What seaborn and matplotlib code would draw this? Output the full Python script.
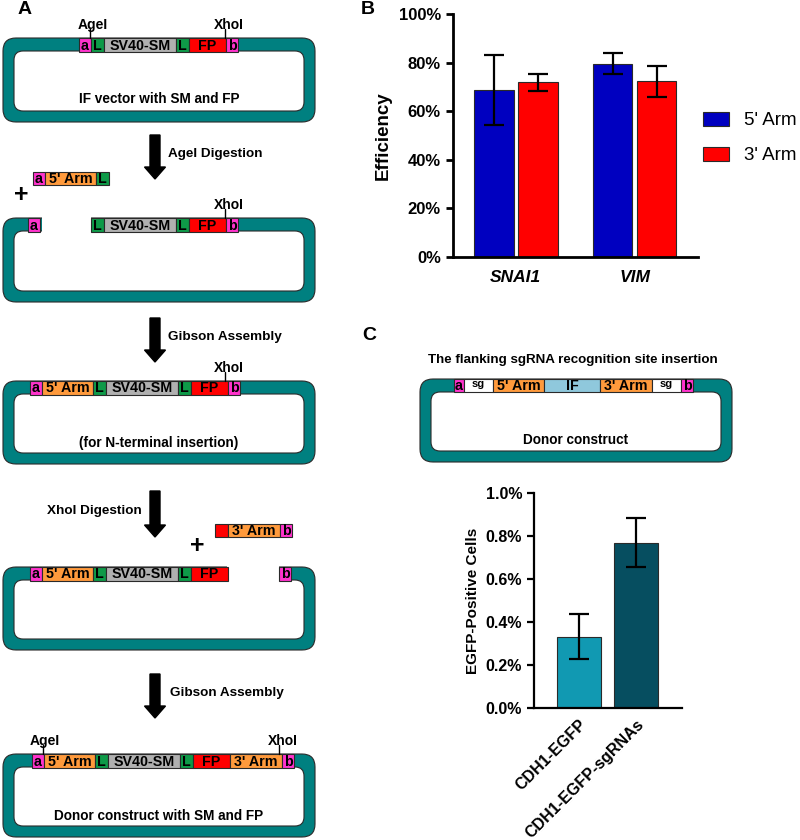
import numpy as np
import pandas as pd
import matplotlib
matplotlib.use('Agg')
import matplotlib.pyplot as plt
import seaborn as sns
from matplotlib.patches import FancyBboxPatch, Rectangle, FancyArrow
from matplotlib.ticker import FuncFormatter

# ---- data (panel B) ----
genes = ['SNAI1', 'VIM']
arms = ["5' Arm", "3' Arm"]
eff_5arm = [68.7, 79.7]
err_5arm = [14.4, 4.5]
eff_3arm = [71.9, 72.5]
err_3arm = [3.5, 6.4]

# ---- data (panel C) ----
groups_c = ['CDH1-EGFP', 'CDH1-EGFP-sgRNAs']
egfp_pos = [0.333, 0.770]
egfp_err = [0.105, 0.116]

sns.set_style('ticks')
plt.rcParams['font.family'] = ['Liberation Sans', 'DejaVu Sans']
plt.rcParams['font.weight'] = 'bold'
for k in ['text.color', 'axes.labelcolor', 'xtick.color', 'ytick.color', 'axes.edgecolor']:
    plt.rcParams[k] = 'black'

TEAL = '#008080'
EDGE = '#2a2a2a'
col = {'a': '#ff33cc', 'b': '#ff33cc', 'L': '#0e9a48', 'SV40-SM': '#b0b0b0',
       'FP': '#ff0000', "5' Arm": '#ff9a3c', "3' Arm": '#ff9a3c',
       'sg': '#ffffff', 'IF': '#8fc8dc', '': '#ff0000'}
seg_w = {'a': 12, 'b': 12, 'L': 13, 'SV40-SM': 72, 'FP': 37, "5' Arm": 51,
         "3' Arm": 52, 'sg': 29, 'IF': 56, '': 13}

fig = plt.figure(figsize=(8, 8.4), dpi=100)
ov = fig.add_axes([0, 0, 1, 1])
ov.set_xlim(0, 800)
ov.set_ylim(840, 0)
ov.axis('off')


def vector(x0, x1, y0, y1, text=None, ty=None, band=13, side=11):
    ov.add_patch(FancyBboxPatch((x0, y0), x1 - x0, y1 - y0,
                                boxstyle='round,pad=0,rounding_size=13',
                                fc=TEAL, ec=EDGE, lw=0.8, zorder=1))
    ov.add_patch(FancyBboxPatch((x0 + side, y0 + band), x1 - x0 - 2 * side,
                                y1 - y0 - band - side,
                                boxstyle='round,pad=0,rounding_size=9',
                                fc='white', ec=EDGE, lw=0.8, zorder=2))
    if text:
        ov.text((x0 + x1) / 2, ty, text, ha='center', va='center',
                fontsize=9.8, fontweight='bold', zorder=5)


def segments(x, y, names, h=14):
    for n in names:
        w = seg_w[n]
        ov.add_patch(Rectangle((x, y), w, h, fc=col[n], ec=EDGE, lw=0.8, zorder=3))
        if n == 'sg':
            ov.text(x + w / 2, y + h / 2 - 1.5, n, ha='center', va='center',
                    fontsize=8, fontweight='bold', zorder=4)
        elif n:
            ov.text(x + w / 2, y + h / 2 + 0.5, n, ha='center', va='center',
                    fontsize=10.3, fontweight='bold', zorder=4)
        x += w
    return x


def gap(x0, x1, y0, h=15):
    ov.add_patch(Rectangle((x0, y0 - 1), x1 - x0, h, fc='white', ec='none', zorder=2.5))


def site(x, ybar, name, tx):
    ov.plot([x, x], [ybar, ybar - 9], color='black', lw=1, zorder=4)
    ov.text(tx, ybar - 13, name, ha='center', va='center', fontsize=10, fontweight='bold')


def arrow(x, y0, y1, label, tx, ha='left'):
    ov.add_patch(FancyArrow(x, y0, 0, y1 - y0, width=10, head_width=21, head_length=12,
                            length_includes_head=True, fc='black', ec='black'))
    ov.text(tx, (y0 + y1) / 2 - 3, label, ha=ha, va='center', fontsize=9.7, fontweight='bold')


# ---- panel A ----
ov.text(25, 10, 'A', ha='center', va='center', fontsize=14, fontweight='bold')

vector(3, 315, 38, 122, 'IF vector with SM and FP', 99)
segments(79, 38, ['a', 'L', 'SV40-SM', 'L', 'FP', 'b'])
site(90, 38, 'AgeI', 93)
site(225, 38, 'XhoI', 229)

arrow(155, 135, 179, 'AgeI Digestion', 168)
segments(33, 172, ['a', "5' Arm", 'L'], h=13)
ov.text(21, 195, '+', ha='center', va='center', fontsize=18, fontweight='bold')

vector(3, 315, 218, 302)
gap(42, 91, 218)
segments(28, 218, ['a'])
segments(91, 218, ['L', 'SV40-SM', 'L', 'FP', 'b'])
site(225, 218, 'XhoI', 229)

arrow(155, 318, 362, 'Gibson Assembly', 168)

vector(3, 315, 381, 464, '(for N-terminal insertion)', 443)
segments(30, 381, ['a', "5' Arm", 'L', 'SV40-SM', 'L', 'FP', 'b'])
site(225, 381, 'XhoI', 229)

arrow(155, 491, 537, 'XhoI Digestion', 142, ha='right')
segments(215, 524, ['', "3' Arm", 'b'], h=13)
ov.text(197, 546, '+', ha='center', va='center', fontsize=18, fontweight='bold')

vector(3, 315, 567, 650)
gap(227, 279, 567)
segments(30, 567, ['a', "5' Arm", 'L', 'SV40-SM', 'L', 'FP'])
segments(279, 567, ['b'])

arrow(155, 674, 718, 'Gibson Assembly', 170)

vector(3, 315, 754, 837, 'Donor construct with SM and FP', 816)
segments(32, 754, ['a', "5' Arm", 'L', 'SV40-SM', 'L', 'FP', "3' Arm", 'b'])
site(43, 754, 'AgeI', 45)
site(279, 754, 'XhoI', 283)

# ---- panel C construct ----
ov.text(368, 9, 'B', ha='center', va='center', fontsize=14, fontweight='bold')
ov.text(369, 336, 'C', ha='center', va='center', fontsize=14, fontweight='bold')
ov.text(573, 360, 'The flanking sgRNA recognition site insertion', ha='center',
        va='center', fontsize=9.6, fontweight='bold')
vector(420, 732, 379, 462, 'Donor construct', 440)
seg_w['a'] = 10
segments(454, 379, ['a', 'sg', "5' Arm", 'IF', "3' Arm", 'sg', 'b'], h=13)

# ---- panel B bar chart ----
df_b = pd.DataFrame({'gene': genes * 2,
                     'arm': [arms[0]] * 2 + [arms[1]] * 2,
                     'eff': eff_5arm + eff_3arm})
errs_b = [err_5arm, err_3arm]

axB = fig.add_axes([0.566, 0.694, 0.306, 0.289])
sns.barplot(data=df_b, x='gene', y='eff', hue='arm', palette=['#0000c0', '#ff0000'],
            saturation=1, width=0.74, gap=0.1, errorbar=None, edgecolor=EDGE,
            linewidth=0.8, ax=axB)
for cont, errs in zip(axB.containers, errs_b):
    for bar, e in zip(cont, errs):
        axB.errorbar(bar.get_x() + bar.get_width() / 2, bar.get_height(), yerr=e,
                     color='black', lw=1.6, capsize=7.5, capthick=1.6, zorder=5)
axB.set_xlim(-0.53, 1.53)
axB.set_ylim(0, 100)
axB.set_yticks([0, 20, 40, 60, 80, 100])
axB.yaxis.set_major_formatter(FuncFormatter(lambda v, p: f'{v:.0f}%'))
axB.set_xlabel('')
axB.set_ylabel('Efficiency', fontsize=13.5, fontweight='bold', labelpad=5)
for lab in axB.get_yticklabels():
    lab.set_fontsize(12)
    lab.set_fontweight('bold')
for lab in axB.get_xticklabels():
    lab.set_fontsize(12.5)
    lab.set_fontweight('bold')
    lab.set_fontstyle('italic')
axB.tick_params(axis='y', width=2, length=5)
axB.tick_params(axis='x', length=0, pad=9)
for s in ['left', 'bottom']:
    axB.spines[s].set_linewidth(2)
sns.despine(ax=axB)
h, l = axB.get_legend_handles_labels()
axB.legend(h, l, loc='center left', bbox_to_anchor=(1.0, 0.49), frameon=False,
           prop={'size': 13.5, 'weight': 'normal'}, handlelength=1.35, handleheight=0.75,
           handletextpad=0.8, labelspacing=0.95, borderaxespad=0.0, borderpad=0.3)

# ---- panel C bar chart ----
df_c = pd.DataFrame({'group': groups_c, 'pos': egfp_pos})
axC = fig.add_axes([0.6675, 0.157, 0.185, 0.256])
sns.barplot(data=df_c, x='group', y='pos', hue='group', palette=['#1199b2', '#064e60'],
            saturation=1, width=0.77, errorbar=None, edgecolor=EDGE, linewidth=0.8,
            legend=False, ax=axC)
for cont, e in zip(axC.containers, egfp_err):
    bar = cont[0]
    axC.errorbar(bar.get_x() + bar.get_width() / 2, bar.get_height(), yerr=e,
                 color='black', lw=1.6, capsize=7.5, capthick=1.6, zorder=5)
axC.set_xlim(-0.79, 1.81)
axC.set_ylim(0, 1.0)
axC.set_yticks([0, 0.2, 0.4, 0.6, 0.8, 1.0])
axC.yaxis.set_major_formatter(FuncFormatter(lambda v, p: f'{v:.1f}%'))
axC.set_xlabel('')
axC.set_ylabel('EGFP-Positive Cells', fontsize=11, fontweight='bold', labelpad=4)
for lab in axC.get_yticklabels():
    lab.set_fontsize(11.5)
    lab.set_fontweight('bold')
for lab in axC.get_xticklabels():
    lab.set_fontsize(11.5)
    lab.set_fontweight('bold')
    lab.set_rotation(45)
    lab.set_ha('right')
    lab.set_rotation_mode('anchor')
axC.tick_params(axis='y', width=1.6, length=5)
axC.tick_params(axis='x', length=0, pad=6)
for s in ['left', 'bottom']:
    axC.spines[s].set_linewidth(1.6)
sns.despine(ax=axC)

fig.savefig('out.png', dpi=100)
